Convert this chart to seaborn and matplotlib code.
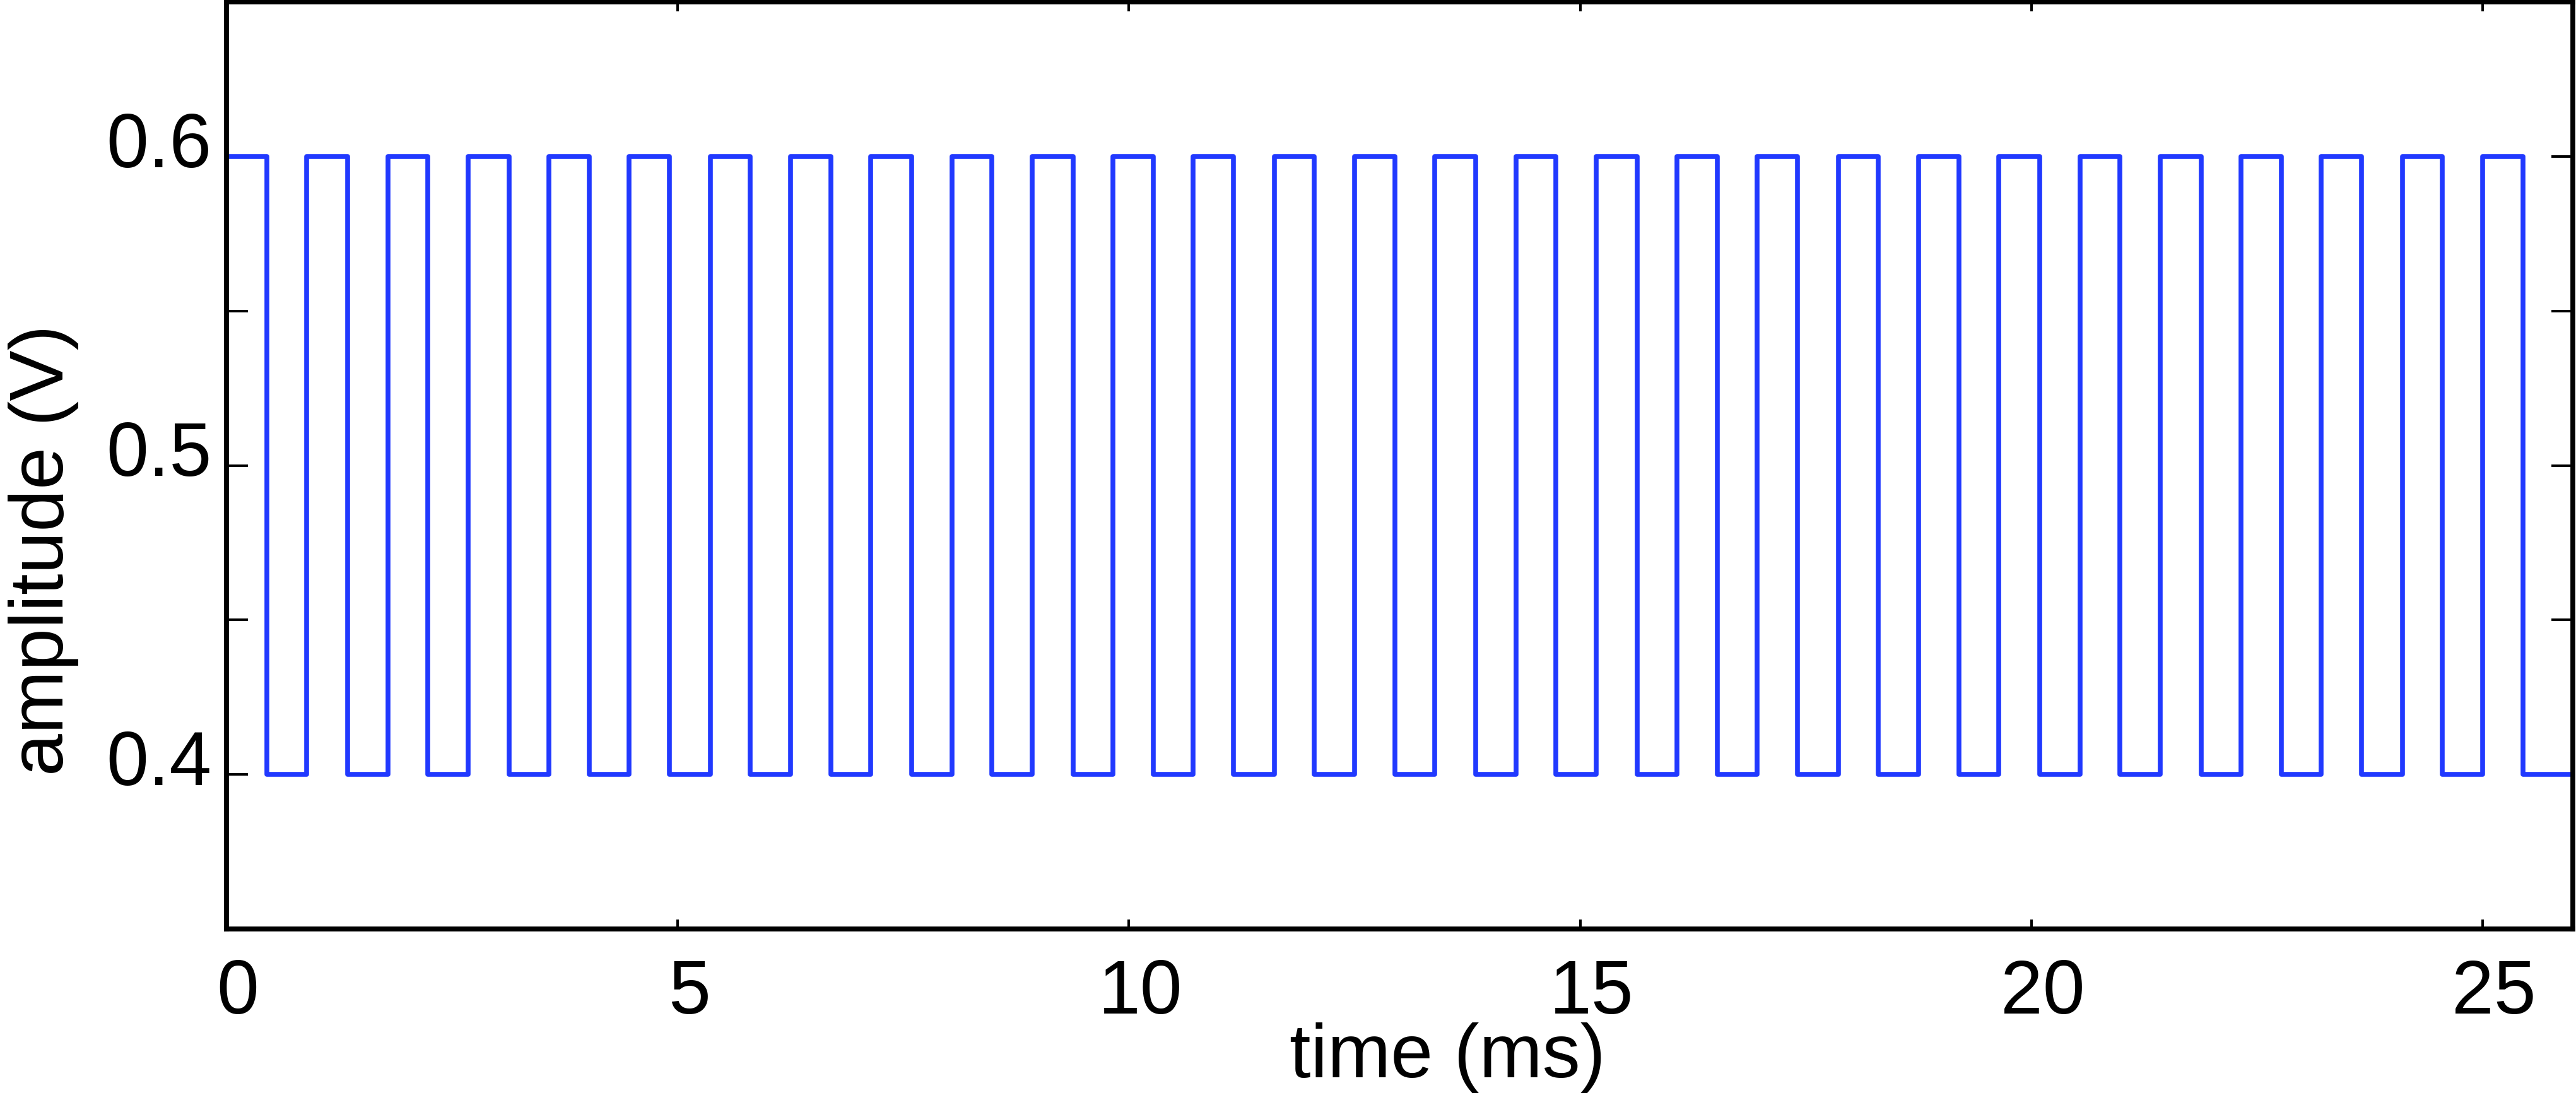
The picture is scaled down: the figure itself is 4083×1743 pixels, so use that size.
import matplotlib
matplotlib.use("Agg")
import matplotlib.pyplot as plt
import matplotlib.transforms as mtransforms
import pandas as pd
import seaborn as sns

# Edge times of the square wave (ms)
rise_times = [0.00, 0.89, 1.79, 2.68, 3.57, 4.46, 5.36, 6.25, 7.14, 8.04,
              8.93, 9.82, 10.71, 11.61, 12.50, 13.39, 14.29, 15.18, 16.07,
              16.96, 17.86, 18.75, 19.64, 20.54, 21.43, 22.32, 23.21, 24.11,
              25.00]
fall_times = [0.45, 1.34, 2.23, 3.13, 4.02, 4.91, 5.80, 6.70, 7.59, 8.48,
              9.38, 10.27, 11.16, 12.05, 12.95, 13.84, 14.73, 15.63, 16.52,
              17.41, 18.30, 19.20, 20.09, 20.98, 21.88, 22.77, 23.66, 24.55,
              25.45]
high_level = 0.6
low_level = 0.4
t_end = 26.0

y_ticks = [0.35, 0.4, 0.45, 0.5, 0.55, 0.6, 0.65]
y_ticklabels = ["", "0.4", "", "0.5", "", "0.6", ""]
x_ticks = [0, 5, 10, 15, 20, 25]

# build the step signal table
rows = [(t, high_level) for t in rise_times] + [(t, low_level) for t in fall_times]
rows.sort()
rows.append((t_end, low_level))
df = pd.DataFrame(rows, columns=["time", "amplitude"])

sns.set_theme(style="ticks")
plt.rcParams["font.family"] = ["Liberation Sans", "DejaVu Sans"]

fig = plt.figure(figsize=(40.83, 17.43), dpi=100)
ax = fig.add_axes([0.0879, 0.1555, 0.9109, 0.8425])

sns.lineplot(data=df, x="time", y="amplitude", ax=ax, estimator=None,
             drawstyle="steps-post", color="#2139ff", linewidth=5.5)

ax.set_xlim(0, 26)
ax.set_ylim(0.35, 0.65)
ax.set_xticks(x_ticks)
ax.set_xticklabels([str(v) for v in x_ticks])
ax.set_yticks(y_ticks)
ax.set_yticklabels(y_ticklabels)

for s in ax.spines.values():
    s.set_visible(True)
    s.set_linewidth(5.6)
    s.set_color("black")

ax.tick_params(axis="y", direction="in", length=24.5, width=2.9,
               left=True, right=True, labelsize=86.5, pad=17, colors="black")
ax.tick_params(axis="x", direction="in", length=10.8, width=2.9,
               bottom=True, top=True, labelsize=86.5, pad=34, colors="black")

# small label nudges to follow the original layout
dy = mtransforms.ScaledTranslation(0, 0.27, fig.dpi_scale_trans)
for lab in ax.get_yticklabels():
    lab.set_transform(lab.get_transform() + dy)
dx = mtransforms.ScaledTranslation(0.18, 0, fig.dpi_scale_trans)
for lab in ax.get_xticklabels():
    lab.set_transform(lab.get_transform() + dx)

ax.set_xlabel("time (ms)", fontsize=86.5, color="black")
ax.set_ylabel("amplitude (V)", fontsize=86.5, color="black")
ax.xaxis.set_label_coords(0.5203, -0.101)
ax.yaxis.set_label_coords(-0.063, 0.409)

fig.savefig("out.png", dpi=100, facecolor="white")
